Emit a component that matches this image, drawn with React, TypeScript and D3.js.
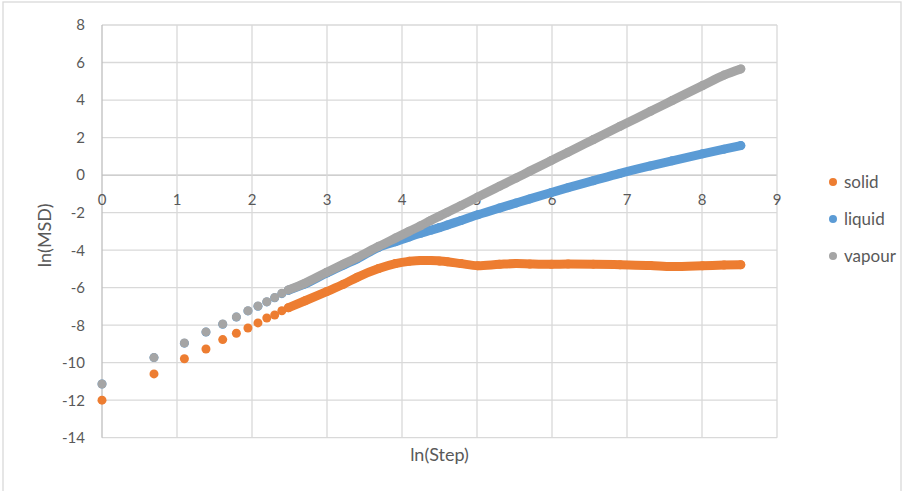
import * as React from "react";
import { scaleLinear, line, curveMonotoneX } from "d3";

// steps of the run; the chart plots ln(step) on x
const steps = [
  1, 2, 3, 4, 5, 6, 7, 8, 9, 10, 11, 12, 15, 20, 25, 30, 40, 50, 60, 70, 80,
  90, 100, 120, 150, 200, 250, 300, 400, 500, 700, 1000, 1500, 2000, 3000,
  4000, 5000,
];

const solid = [
  -12.0, -10.6, -9.79, -9.27, -8.77, -8.43, -8.15, -7.88, -7.62, -7.46, -7.23,
  -7.07, -6.7, -6.21, -5.82, -5.45, -4.98, -4.72, -4.6, -4.55, -4.55, -4.58,
  -4.62, -4.72, -4.83, -4.76, -4.72, -4.74, -4.76, -4.74, -4.75, -4.78, -4.82,
  -4.88, -4.84, -4.8, -4.78,
];

const liquid = [
  -11.14, -9.73, -8.96, -8.37, -7.95, -7.57, -7.24, -6.99, -6.76, -6.54,
  -6.32, -6.14, -5.8, -5.22, -4.8, -4.47, -3.85, -3.55, -3.3, -3.1, -2.94,
  -2.8, -2.66, -2.42, -2.12, -1.76, -1.49, -1.27, -0.93, -0.67, -0.3, 0.09,
  0.49, 0.76, 1.13, 1.38, 1.57,
];

const vapour = [
  -11.14, -9.73, -8.95, -8.36, -7.94, -7.56, -7.23, -6.98, -6.75, -6.53, -6.3,
  -6.12, -5.76, -5.18, -4.75, -4.4, -3.8, -3.36, -3.0, -2.7, -2.42, -2.19,
  -1.98, -1.62, -1.17, -0.6, -0.16, 0.21, 0.78, 1.22, 1.89, 2.6, 3.4, 3.97,
  4.77, 5.33, 5.66,
];

const seriesNames = ["solid", "liquid", "vapour"];
const seriesColors = ["#ED7D31", "#5B9BD5", "#A5A5A5"];
const xTicks = [0, 1, 2, 3, 4, 5, 6, 7, 8, 9];
const yTicks = [-14, -12, -10, -8, -6, -4, -2, 0, 2, 4, 6, 8];

const W = 904;
const H = 491;
const FONT = "Lato, 'Open Sans', sans-serif";

export default function App() {
  const xScale = scaleLinear().domain([0, 9]).range([102, 777]);
  const yScale = scaleLinear().domain([-14, 8]).range([437.7, 25]);

  const allSeries = [solid, liquid, vapour];
  const r = 4.5;
  // markers overlap into a solid band from about step 12 on
  const denseFrom = steps.indexOf(12);

  const band = line<[number, number]>()
    .x((d) => xScale(Math.log(d[0])))
    .y((d) => yScale(d[1]))
    .curve(curveMonotoneX);

  return (
    <svg
      width={W}
      height={H}
      style={{ position: "absolute", left: 0, top: 0, fontFamily: FONT }}
    >
      <rect x={0} y={0} width={W} height={H} fill="white" />
      <rect
        x={3}
        y={2}
        width={898}
        height={H + 10}
        fill="none"
        stroke="#d9d9d9"
        strokeWidth={1.3}
      />

      {/* grid */}
      {yTicks.map((t) => (
        <line
          key={`gy${t}`}
          x1={xScale(0)}
          x2={xScale(9)}
          y1={yScale(t)}
          y2={yScale(t)}
          stroke={t === 0 ? "#bfbfbf" : "#d9d9d9"}
          strokeWidth={1.3}
        />
      ))}
      {xTicks.map((t) => (
        <line
          key={`gx${t}`}
          x1={xScale(t)}
          x2={xScale(t)}
          y1={yScale(8)}
          y2={yScale(-14)}
          stroke={t === 0 ? "#bfbfbf" : "#d9d9d9"}
          strokeWidth={1.3}
        />
      ))}

      {/* tick labels */}
      {yTicks.map((t) => (
        <text
          key={`ly${t}`}
          x={85}
          y={yScale(t)}
          dy="0.36em"
          textAnchor="end"
          fontSize={15}
          fill="#595959"
        >
          {t}
        </text>
      ))}
      {xTicks.map((t) => (
        <text
          key={`lx${t}`}
          x={xScale(t)}
          y={yScale(0) + 25}
          dy="0.36em"
          textAnchor="middle"
          fontSize={15}
          fill="#595959"
        >
          {t}
        </text>
      ))}

      {/* axis titles */}
      <text
        x={xScale(4.5)}
        y={461}
        textAnchor="middle"
        fontSize={18}
        fill="#595959"
      >
        ln(Step)
      </text>
      <text
        transform={`translate(51,${(yScale(8) + yScale(-14)) / 2 + 4}) rotate(-90)`}
        textAnchor="middle"
        fontSize={18}
        fill="#595959"
      >
        ln(MSD)
      </text>

      {/* series */}
      {allSeries.map((vals, si) => {
        const pts: [number, number][] = steps.map((s, i) => [s, vals[i]]);
        return (
          <g key={seriesNames[si]}>
            <path
              d={band(pts.slice(denseFrom)) || ""}
              fill="none"
              stroke={seriesColors[si]}
              strokeWidth={r * 2}
              strokeLinecap="round"
              strokeLinejoin="round"
            />
            {pts.map((p, i) => (
              <circle
                key={i}
                cx={xScale(Math.log(p[0]))}
                cy={yScale(p[1])}
                r={r}
                fill={seriesColors[si]}
              />
            ))}
          </g>
        );
      })}

      {/* legend */}
      {seriesNames.map((n, i) => (
        <g key={`leg${n}`} transform={`translate(833,${182 + i * 37})`}>
          <circle r={4} fill={seriesColors[i]} />
          <text x={11} dy="0.36em" fontSize={17} fill="#595959">
            {n}
          </text>
        </g>
      ))}
    </svg>
  );
}
